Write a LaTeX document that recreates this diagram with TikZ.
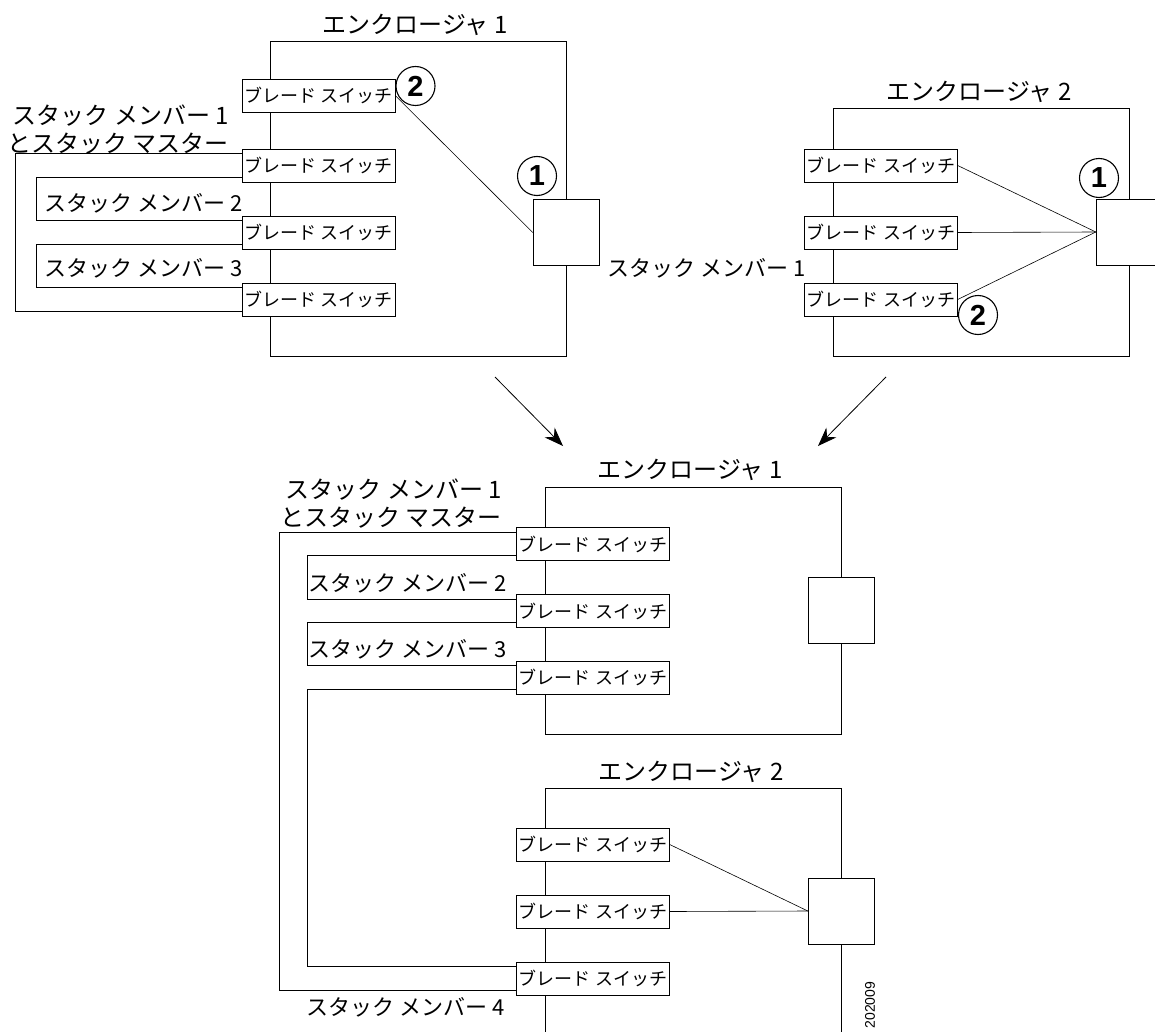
\documentclass[tikz,border=0pt]{standalone}
\usepackage{fontspec}
\usepackage{tikz}
\usetikzlibrary{arrows.meta,positioning,calc}
\newfontfamily\jp{Noto Sans CJK JP}
\newfontfamily\numfont{Liberation Sans}
\tikzset{% styles of the stack picture
	blade/.style={draw,fill=white,inner sep=0pt,minimum width=153pt,minimum height=33pt,
		font=\jp\fontsize{18}{20}\selectfont},
	port/.style={draw,fill=white,inner sep=0pt,minimum size=66pt},
	encl/.style={draw,line width=0.8pt},
	lbl/.style={inner sep=0pt,font=\jp\fontsize{22}{25}\selectfont},
	biglbl/.style={inner sep=0pt,font=\jp\fontsize{24}{26}\selectfont},
	num/.style={draw,circle,inner sep=0pt,minimum size=39pt,line width=1.1pt,
		font=\numfont\bfseries\fontsize{29}{29}\selectfont},
	wire/.style={line width=0.8pt},
	fan/.style={line width=0.6pt}
}

\begin{document}
\begin{tikzpicture}[x=1pt,y=-1pt]
\clip (0,0) rectangle (1155,1032);
\fill[white] (0,0) rectangle (1155,1032);
% enclosures
\draw[encl] (270,41) rectangle (566,356);
\draw[encl] (833,108) rectangle (1129,356);
\draw[encl] (545,487) rectangle (841,734);
\draw[encl] (545,1040) -- (545,788) -- (841,788) -- (841,1040);
\node[biglbl] (t1) at (415,25) {エンクロージャ 1};
\node[biglbl] (t2) at (979,92) {エンクロージャ 2};
\node[biglbl] (t3) at (690,470) {エンクロージャ 1};
\node[biglbl] (t4) at (691,772) {エンクロージャ 2};
% blade switches
\foreach \n/\y in {1/95.5,2/165.5,3/232.5,4/299.5}
	\node[blade] (a\n) at (318.5,\y) {ブレード スイッチ};
\foreach \n/\y in {1/165.5,2/232.5,3/299.5}
	\node[blade] (b\n) at (881,\y) {ブレード スイッチ};
\foreach \n/\y in {1/544,2/611,3/677.5}
	\node[blade] (c\n) at (593,\y) {ブレード スイッチ};
\foreach \n/\y in {1/844.5,2/911.5,3/978.5}
	\node[blade] (d\n) at (593,\y) {ブレード スイッチ};
\node[port] (pa) at (566,232.5) {};
\node[port] (pb) at (1129,232) {};
\node[port] (pc) at (841,610.5) {};
\node[port] (pd) at (841,911) {};
% stack cables
\draw[wire] ([yshift=-5pt]a2.north west) -- ++(-226,0) |- ([yshift=5pt]a4.south west);
\draw[wire] ([yshift=5pt]a2.south west) -- ++(-205,0) |- ([yshift=-5pt]a3.north west);
\draw[wire] ([yshift=5pt]a3.south west) -- ++(-205,0) |- ([yshift=-5pt]a4.north west);
\draw[wire] ([yshift=-5pt]c1.north west) -- ++(-237,0) |- ([yshift=5pt]d3.south west);
\draw[wire] ([yshift=5pt]c1.south west) -- ++(-209,0) |- ([yshift=-5pt]c2.north west);
\draw[wire] ([yshift=5pt]c2.south west) -- ++(-209,0) |- ([yshift=-5pt]c3.north west);
\draw[wire] ([yshift=5pt]c3.south west) -- ++(-209,0) |- ([yshift=-5pt]d3.north west);
% internal links
\draw[fan] (a1.east) -- (pa.west);
\foreach \n in {1,2,3}
	\draw[fan] (b\n.east) -- (pb.west);
\draw[fan] (d1.east) -- (pd.west);
\draw[fan] (d2.east) -- (pd.west);
% callouts
\node[num] (na2) at (415.5,86) {2};
\node[num] (na1) at (537,176) {1};
\node[num] (nb1) at (1099,178) {1};
\node[num] (nb2) at (978,315) {2};
% labels
\node[biglbl,align=right,anchor=east] (m1) at (229,129.5) {スタック メンバー 1\\[2pt]とスタック マスター};
\node[lbl,anchor=west] (m2) at (44,203) {スタック メンバー 2};
\node[lbl,anchor=west] (m3) at (44,268) {スタック メンバー 3};
\node[lbl,anchor=west] (m4) at (607,268) {スタック メンバー 1};
\node[biglbl,align=right,anchor=east] (s1) at (502,504) {スタック メンバー 1\\[2pt]とスタック マスター};
\node[lbl,anchor=west] (s2) at (308,583) {スタック メンバー 2};
\node[lbl,anchor=west] (s3) at (308,649) {スタック メンバー 3};
\node[lbl,anchor=west] (s4) at (306,1007) {スタック メンバー 4};
\node[rotate=90,inner sep=0pt,font=\numfont\fontsize{14}{14}\selectfont] (fig) at (870,1005) {202009};
% merge arrows
\coordinate (l0) at (495,377);
\coordinate (l1) at (563,446);
\coordinate (r0) at (886,377);
\coordinate (r1) at (818,446);
\draw[line width=0.8pt,-{Stealth[length=19pt,width=14pt]}] (l0) -- (l1);
\draw[line width=0.8pt,-{Stealth[length=19pt,width=14pt]}] (r0) -- (r1);
\end{tikzpicture}
\end{document}
